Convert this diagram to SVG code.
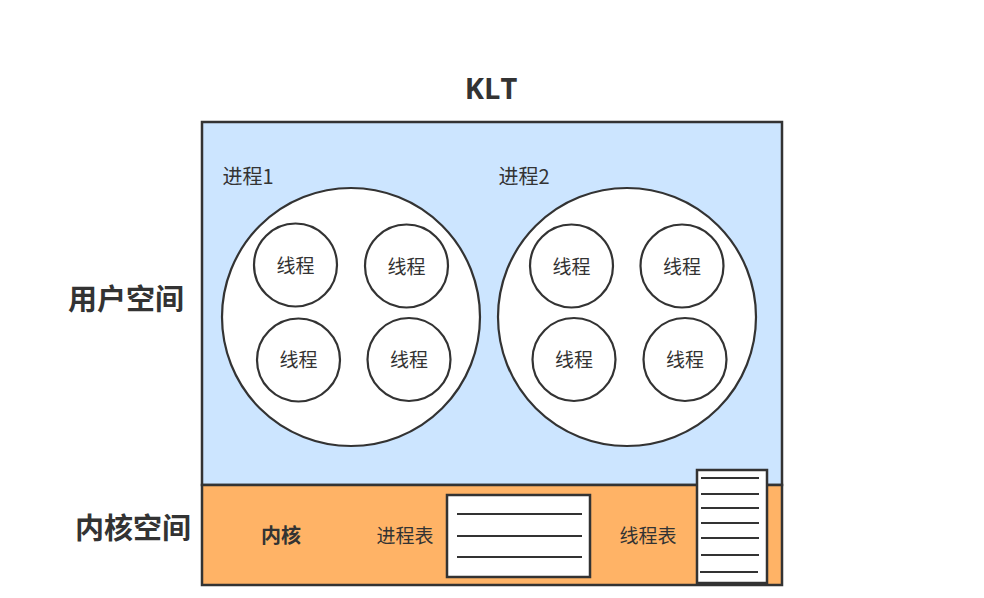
<svg xmlns="http://www.w3.org/2000/svg" width="984" height="598" viewBox="0 0 984 598">
<style>
.cj{font-family:"Noto Sans CJK SC","Noto Sans",sans-serif;fill:#333333;text-anchor:middle;dominant-baseline:central}
.b{font-weight:bold}
.proc{fill:#ffffff;stroke:#333333;stroke-width:2.2}
.thr{fill:#ffffff;stroke:#333333;stroke-width:2.2}
.tbl{fill:#ffffff;stroke:#333333;stroke-width:2.5}
.ln{stroke:#333333;stroke-width:2.2}
</style>
<rect width="984" height="598" fill="#ffffff"/>
<text class="cj b" x="491" y="87" style="font-family:'Open Sans','Noto Sans',sans-serif" font-size="29">KLT</text>
<text class="cj b" x="126" y="297" font-size="29">用户空间</text>
<text class="cj b" x="133" y="526" font-size="29">内核空间</text>
<g id="user-space">
<rect x="202" y="122" width="580" height="363" fill="#cce5ff" stroke="#333333" stroke-width="2.5"/>
</g>
<g id="kernel-space">
<rect x="202" y="485" width="580" height="100" fill="#ffb366" stroke="#333333" stroke-width="2.5"/>
<text class="cj b" x="281" y="534" font-size="20">内核</text>
</g>
<g id="process1">
<text class="cj" x="248" y="175" font-size="20">进程1</text>
<circle class="proc" cx="351" cy="317" r="129"/>
</g>
<g id="process2">
<text class="cj" x="524" y="175" font-size="20">进程2</text>
<circle class="proc" cx="627" cy="317" r="129"/>
</g>
<g id="t1"><circle class="thr" cx="295.5" cy="265" r="41.5"/><text class="cj" x="295.5" y="264" font-size="19">线程</text></g>
<g id="t2"><circle class="thr" cx="406.5" cy="266" r="41.5"/><text class="cj" x="406.5" y="265" font-size="19">线程</text></g>
<g id="t3"><circle class="thr" cx="298.5" cy="360" r="41.5"/><text class="cj" x="298.5" y="358" font-size="19">线程</text></g>
<g id="t4"><circle class="thr" cx="409" cy="359.5" r="41.5"/><text class="cj" x="409" y="358" font-size="19">线程</text></g>
<g id="t5"><circle class="thr" cx="571.5" cy="266" r="41.5"/><text class="cj" x="571.5" y="265" font-size="19">线程</text></g>
<g id="t6"><circle class="thr" cx="682" cy="266" r="41.5"/><text class="cj" x="682" y="265" font-size="19">线程</text></g>
<g id="t7"><circle class="thr" cx="574" cy="359.5" r="41.5"/><text class="cj" x="574" y="358" font-size="19">线程</text></g>
<g id="t8"><circle class="thr" cx="685" cy="359.5" r="41.5"/><text class="cj" x="685" y="358" font-size="19">线程</text></g>
<g id="process-table">
<text class="cj" x="405" y="534" font-size="19">进程表</text>
<rect class="tbl" x="447" y="495" width="143" height="82"/>
<line class="ln" x1="457" y1="514" x2="582" y2="514"/>
<line class="ln" x1="457" y1="536" x2="582" y2="536"/>
<line class="ln" x1="457" y1="557" x2="582" y2="557"/>
</g>
<g id="thread-table">
<text class="cj" x="648" y="534" font-size="19">线程表</text>
<rect class="tbl" x="697" y="470" width="70" height="113"/>
<line class="ln" x1="701" y1="478" x2="759" y2="478"/>
<line class="ln" x1="701" y1="494" x2="759" y2="494"/>
<line class="ln" x1="701" y1="508" x2="759" y2="508"/>
<line class="ln" x1="701" y1="523" x2="759" y2="523"/>
<line class="ln" x1="701" y1="538" x2="759" y2="538"/>
<line class="ln" x1="701" y1="555" x2="759" y2="555"/>
<line class="ln" x1="700" y1="572" x2="758" y2="572"/>
</g>
<g id="connectors"></g>
</svg>
